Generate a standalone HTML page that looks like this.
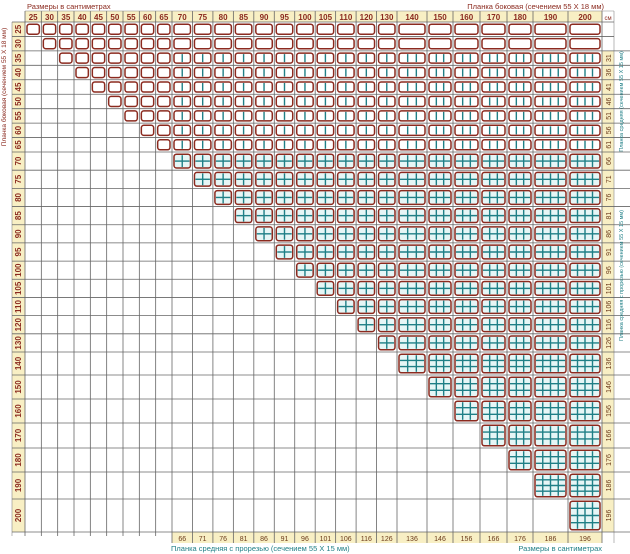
<!DOCTYPE html>
<html><head><meta charset="utf-8"><style>
html,body{margin:0;padding:0;background:#fff;}
svg{display:block;}
text{font-family:"Liberation Sans",sans-serif;}
</style></head><body>
<svg id="s" width="630" height="554" xmlns="http://www.w3.org/2000/svg"></svg>
<script>
const s=document.getElementById('s');
let h='';
const cols=[25,30,35,40,45,50,55,60,65,70,75,80,85,90,95,100,105,110,120,130,140,150,160,170,180,190,200];
const cx=[25];
for(let i=1;i<=9;i++)cx.push(25+i*(147/9));
for(let i=1;i<=11;i++)cx.push(172+i*(225/11));
[427,453,480,507,533,568,602].forEach(v=>cx.push(v));
const ry=[22];
for(let i=1;i<=9;i++)ry.push(22+i*(130/9));
for(let i=1;i<=11;i++)ry.push(152+i*(200/11));
[375,399,423,448,472,499,532].forEach(v=>ry.push(v));
const n=27;
const RED='#8b2a1f',TEAL='#1f7f86';
h+=`<rect x="25" y="11" width="577" height="11" fill="#f8efc4"/>`;
h+=`<rect x="12" y="22" width="13" height="510" fill="#f8efc4"/>`;
h+=`<rect x="602" y="${ry[2]}" width="12" height="${532-ry[2]}" fill="#f8efc4"/>`;
h+=`<rect x="${cx[9]}" y="532" width="${602-cx[9]}" height="11" fill="#f8efc4"/>`;
for(let i=0;i<=n;i++){h+=`<line x1="${cx[i]}" y1="11" x2="${cx[i]}" y2="${i>=9?543:536}" stroke="#666" stroke-width="0.8"/>`;}
h+=`<line x1="614" y1="11" x2="614" y2="543" stroke="#888" stroke-width="0.6"/>`;
h+=`<line x1="12" y1="22" x2="12" y2="536" stroke="#888" stroke-width="0.6"/>`;
for(let j=0;j<=n;j++){h+=`<line x1="12" y1="${ry[j]}" x2="${j>=2?630:614}" y2="${ry[j]}" stroke="#666" stroke-width="0.8"/>`;}
h+=`<line x1="25" y1="11" x2="614" y2="11" stroke="#888" stroke-width="0.6"/>`;
for(let i=0;i<n;i++){h+=`<text x="${(cx[i]+cx[i+1])/2}" y="20" font-size="8" font-weight="bold" fill="${RED}" text-anchor="middle">${cols[i]}</text>`;}
h+=`<text x="608" y="20" font-size="6" fill="${RED}" text-anchor="middle">см</text>`;
for(let j=0;j<n;j++){const y=(ry[j]+ry[j+1])/2;h+=`<text transform="translate(21,${y}) rotate(-90)" font-size="8" font-weight="bold" fill="${RED}" text-anchor="middle">${cols[j]}</text>`;}
const mid=[31,36,41,46,51,56,61,66,71,76,81,86,91,96,101,106,116,126,136,146,156,166,176,186,196];
for(let j=2;j<n;j++){const y=(ry[j]+ry[j+1])/2;h+=`<text transform="translate(611,${y}) rotate(-90)" font-size="7" fill="#6b3a1a" text-anchor="middle">${mid[j-2]}</text>`;}
for(let i=9;i<n;i++){h+=`<text x="${(cx[i]+cx[i+1])/2}" y="541" font-size="7" fill="#6b3a1a" text-anchor="middle">${mid[i-2]}</text>`;}
h+=`<text x="27" y="9" font-size="7.5" fill="${RED}">Размеры в сантиметрах</text>`;
h+=`<text x="604" y="9" font-size="7.5" fill="${RED}" text-anchor="end">Планка боковая (сечением 55 Х 18 мм)</text>`;
h+=`<text transform="translate(6,87) rotate(-90)" font-size="6.5" fill="${RED}" text-anchor="middle">Планка боковая (сечением 55 Х 18 мм)</text>`;
h+=`<text transform="translate(623,${(ry[2]+ry[9])/2}) rotate(-90)" font-size="5.5" fill="${TEAL}" text-anchor="middle">Планка средняя (сечением 55 Х 15 мм)</text>`;
h+=`<text transform="translate(623,${(ry[9]+ry[22])/2}) rotate(-90)" font-size="5.5" fill="${TEAL}" text-anchor="middle">Планка средняя с прорезью (сечением 55 Х 15 мм)</text>`;
h+=`<text x="171" y="551" font-size="7.5" fill="${TEAL}">Планка средняя с прорезью (сечением 55 Х 15 мм)</text>`;
h+=`<text x="602" y="551" font-size="7.5" fill="${TEAL}" text-anchor="end">Размеры в сантиметрах</text>`;
function cnt(i){return i<9?0:(i<20?1:(i<25?2:3));}
for(let j=0;j<n;j++)for(let i=j;i<n;i++){
 const x=cx[i]+2,y=ry[j]+2.2,w=cx[i+1]-cx[i]-4,hh=ry[j+1]-ry[j]-4.4;
 const v=j>=2?cnt(i):0, hz=cnt(j);
 h+=`<rect x="${x}" y="${y}" width="${w}" height="${hh}" rx="2.5" fill="${hz?'#e6f6f6':'#fff'}" stroke="${RED}" stroke-width="1.5"/>`;
 for(let k=1;k<=v;k++){const xx=x+w*k/(v+1);h+=`<line x1="${xx}" y1="${y+1}" x2="${xx}" y2="${y+hh-1}" stroke="${TEAL}" stroke-width="1.4"/>`;}
 for(let k=1;k<=hz;k++){const yy=y+hh*k/(hz+1);h+=`<line x1="${x+1}" y1="${yy}" x2="${x+w-1}" y2="${yy}" stroke="${TEAL}" stroke-width="1.4"/>`;}
}
s.innerHTML=h;
</script>
</body></html>
